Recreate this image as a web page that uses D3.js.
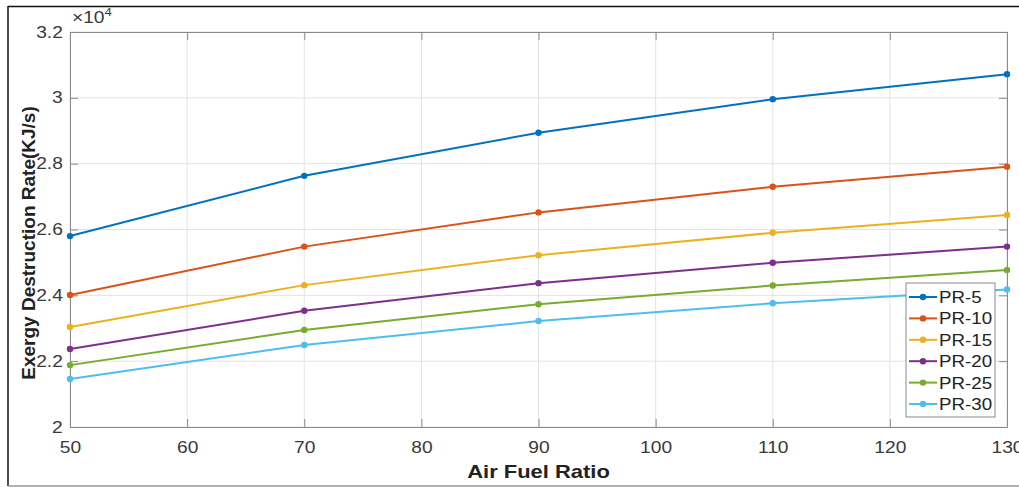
<!DOCTYPE html>
<html>
<head>
<meta charset="utf-8">
<script src="https://cdn.jsdelivr.net/npm/d3@7"></script>
<style>
  body { margin: 0; background: #fff; }
  svg { display: block; font-family: Arial, "Liberation Sans", sans-serif; }
  .grid line { stroke: #e3e3e3; stroke-width: 1; }
  .axis path, .axis line { stroke: #8a8a8a; }
  .axis text { fill: #3a3a3a; font-size: 16px; }
</style>
</head>
<body>
<div id="chart"></div>
<script>
// air fuel ratio (x) and exergy destruction rate (KJ/s) per pressure ratio
var afr = [50, 70, 90, 110, 130];
var seriesNames = ['PR-5', 'PR-10', 'PR-15', 'PR-20', 'PR-25', 'PR-30'];
var pr5 = [25800, 27630, 28940, 29960, 30720];
var pr10 = [24010, 25480, 26520, 27300, 27910];
var pr15 = [23040, 24310, 25220, 25900, 26440];
var pr20 = [22370, 23530, 24370, 24990, 25480];
var pr25 = [21880, 22950, 23730, 24300, 24770];
var pr30 = [21460, 22490, 23220, 23760, 24180];
var colors = ['#0072BD', '#D95319', '#EDB120', '#7E2F8E', '#77AC30', '#4DBEEE'];
var xTicks = [50, 60, 70, 80, 90, 100, 110, 120, 130];
var yTicks = [20000, 22000, 24000, 26000, 28000, 30000, 32000];

var W = 1019, H = 487;
var margin = {top: 32, right: 12, bottom: 60, left: 70};
var w = W - margin.left - margin.right;
var h = H - margin.top - margin.bottom;
var sx = 1.2; // the picture is a bit wide, text too

var svg = d3.select('#chart').append('svg')
  .attr('width', W)
  .attr('height', H);

// outer frame
svg.append('line').attr('x1', 8).attr('x2', W).attr('y1', 6.5).attr('y2', 6.5)
  .attr('stroke', '#111').attr('stroke-width', 1.5);
svg.append('line').attr('x1', 8).attr('x2', 8).attr('y1', 6).attr('y2', 486)
  .attr('stroke', '#111').attr('stroke-width', 1.5);
svg.append('line').attr('x1', 8).attr('x2', W).attr('y1', 486).attr('y2', 486)
  .attr('stroke', '#999').attr('stroke-width', 1.5);

var g = svg.append('g')
  .attr('transform', 'translate(' + margin.left + ',' + margin.top + ')');

var x = d3.scaleLinear().domain([50, 130]).range([0, w]);
var y = d3.scaleLinear().domain([20000, 32000]).range([h, 0]);

// grid
g.append('g').attr('class', 'grid')
  .selectAll('line.v').data(xTicks).enter().append('line')
  .attr('x1', d => x(d)).attr('x2', d => x(d))
  .attr('y1', 0).attr('y2', h);
g.append('g').attr('class', 'grid')
  .selectAll('line.h').data(yTicks).enter().append('line')
  .attr('x1', 0).attr('x2', w)
  .attr('y1', d => y(d)).attr('y2', d => y(d));

// axes, ticks inside (box on)
var fmtY = d => d3.format('')(+(d / 10000).toFixed(1));
g.append('g').attr('class', 'axis')
  .attr('transform', 'translate(0,' + h + ')')
  .call(d3.axisBottom(x).tickValues(xTicks).tickSizeInner(-8).tickSizeOuter(0).tickPadding(15))
  .selectAll('text').attr('transform', 'scale(' + sx + ',1)');
g.append('g').attr('class', 'axis')
  .call(d3.axisLeft(y).tickValues(yTicks).tickFormat(fmtY).tickSizeInner(-8).tickSizeOuter(0).tickPadding(6))
  .selectAll('text').attr('transform', 'scale(' + sx + ',1)');
g.append('g').attr('class', 'axis')
  .call(d3.axisTop(x).tickValues(xTicks).tickSizeInner(-8).tickSizeOuter(0).tickFormat(''));
g.append('g').attr('class', 'axis')
  .attr('transform', 'translate(' + w + ',0)')
  .call(d3.axisRight(y).tickValues(yTicks).tickSizeInner(-8).tickSizeOuter(0).tickFormat(''));

// exponent
var ex = g.append('text')
  .attr('transform', 'translate(2,-9) scale(' + sx + ',1)')
  .attr('fill', '#3a3a3a').style('font-size', '16px');
ex.append('tspan').text('\u00d710');
ex.append('tspan').attr('dy', -7).style('font-size', '11px').text('4');

// lines + markers
var allSeries = [pr5, pr10, pr15, pr20, pr25, pr30];
var line = d3.line().x((d, i) => x(afr[i])).y(d => y(d));

allSeries.forEach(function(vals, k) {
  g.append('path').datum(vals)
    .attr('fill', 'none')
    .attr('stroke', colors[k])
    .attr('stroke-width', 2)
    .attr('d', line);
  g.selectAll('circle.s' + k).data(vals).enter().append('circle')
    .attr('cx', (d, i) => x(afr[i]))
    .attr('cy', d => y(d))
    .attr('r', 3.2)
    .attr('fill', colors[k]);
});

// axis labels
svg.append('text')
  .attr('transform', 'translate(' + (margin.left + w / 2) + ',478) scale(1.22,1)')
  .attr('text-anchor', 'middle')
  .style('font-size', '18px').style('font-weight', 'bold')
  .attr('fill', '#222')
  .text('Air Fuel Ratio');
svg.append('text')
  .attr('transform', 'translate(35,243) rotate(-90)')
  .attr('text-anchor', 'middle')
  .style('font-size', '19px').style('font-weight', 'bold')
  .attr('fill', '#222')
  .text('Exergy Destruction Rate(KJ/s)');

// legend
var lg = svg.append('g').attr('transform', 'translate(906,283)');
lg.append('rect').attr('width', 89).attr('height', 134)
  .attr('fill', '#fff').attr('stroke', '#8a8a8a');
seriesNames.forEach(function(name, k) {
  var ly = 14 + k * 21.4;
  lg.append('line').attr('x1', 3).attr('x2', 31).attr('y1', ly).attr('y2', ly)
    .attr('stroke', colors[k]).attr('stroke-width', 2);
  lg.append('circle').attr('cx', 17).attr('cy', ly).attr('r', 3.2).attr('fill', colors[k]);
  lg.append('text')
    .attr('transform', 'translate(33,' + (ly + 6) + ') scale(1.17,1)')
    .style('font-size', '16px').attr('fill', '#222').text(name);
});
</script>
</body>
</html>
